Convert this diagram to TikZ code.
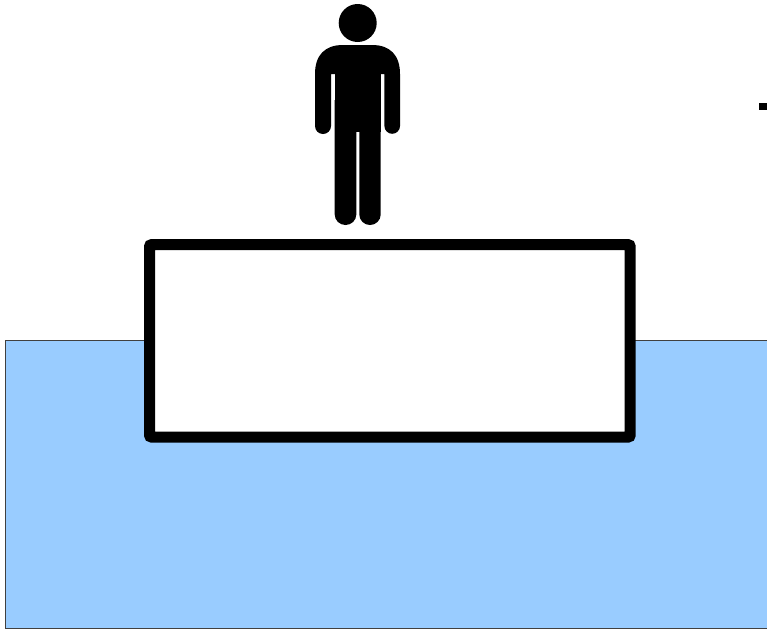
\documentclass[tikz,border=0pt]{standalone}
\usepackage{tikz}

\definecolor{waterblue}{HTML}{99CCFF}

\begin{document}
\begin{tikzpicture}[x=0.02cm,y=-0.02cm,
    raftbox/.style={draw=black,fill=white,line width=0.22cm,rounded corners=0.04cm},
    figure/.style={fill=black,draw=none}]
  \useasboundingbox (0,0) rectangle (767,629);
  % water
  \fill[waterblue] (5.5,340.5) rectangle (767,628);
  \draw[black!75,line width=0.02cm] (767,340.5) -- (5.5,340.5) -- (5.5,628) -- (767,628);
  % raft
  \draw[raftbox] (149.5,244.7) rectangle (630.2,437);
  % person on the raft
  \fill[figure] (357.7,23) circle (19);
  \fill[figure] (334.7,62) -- (380.7,62) -- (380.7,132) -- (334.7,132) -- cycle;
  \fill[figure] (315,74) .. controls (315,55) and (325,45) .. (343,45) -- (372,45)
    .. controls (390,45) and (400,55) .. (400,74) -- (400,126)
    arc[start angle=0,end angle=180,radius=7.8] -- (384.4,74) -- (331,74) -- (331,126)
    arc[start angle=0,end angle=180,radius=8] -- cycle;
  \fill[figure] (334.7,100) -- (356.3,100) -- (356.3,214.5)
    arc[start angle=0,delta angle=180,x radius=10.8,y radius=10.5] -- cycle;
  \fill[figure] (359.3,100) -- (380.7,100) -- (380.7,214.5)
    arc[start angle=0,delta angle=180,x radius=10.7,y radius=10.5] -- cycle;
  % edge mark at the right
  \fill[black] (759.3,103) rectangle (767,110);
\end{tikzpicture}
\end{document}
